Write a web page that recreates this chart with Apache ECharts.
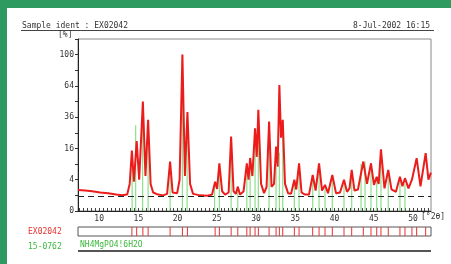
<!DOCTYPE html>
<html><head><meta charset="utf-8">
<script src="https://cdn.jsdelivr.net/npm/echarts@6/dist/echarts.min.js"></script>
<style>html,body{margin:0;padding:0;background:#fff}#c{width:451px;height:264px}</style>
</head><body><div id="c"></div>
<script>
// measured scan (°2θ, % intensity)
const scanAngle = [7.32,8.22,9.11,10.13,11.15,12.17,12.93,13.57,13.89,14.17,14.43,14.78,15.10,15.57,15.90,16.24,16.56,16.88,17.52,18.15,18.66,19.04,19.36,19.94,20.25,20.61,20.93,21.25,21.59,21.97,22.87,23.76,24.39,24.78,25.03,25.32,25.67,26.05,26.50,26.82,27.13,27.43,27.67,27.96,28.41,28.82,29.04,29.24,29.53,29.87,30.09,30.29,30.64,31.02,31.34,31.66,31.97,32.29,32.55,32.75,32.97,33.18,33.40,33.69,34.08,34.46,34.88,35.12,35.48,35.80,36.24,36.75,37.22,37.59,38.03,38.41,38.79,39.17,39.72,40.19,40.70,41.21,41.59,41.91,42.19,42.55,42.99,43.67,44.14,44.65,45.03,45.38,45.63,45.92,46.37,46.85,47.26,47.83,48.34,48.66,48.98,49.43,49.87,50.47,50.96,51.62,51.97,52.29];
const scanIntensity = [1.8,1.7,1.6,1.4,1.3,1.1,1.0,1.1,3,15,3.5,20,4,49,5,34,3,1.4,1.1,1.0,1.2,10,1.4,1.3,4,100,5,40,3,1.2,1.0,0.95,1.1,3.5,2,9.3,1.6,1.1,1.4,22.7,1.6,1.2,2.4,1.1,1.6,9.3,4,11.5,5,28,12,42,3,1.3,2.4,32.7,2.4,3,17,8,65,22,34,3,1.3,1.2,4,1.9,9.3,1.4,1.1,1.1,5.3,1.7,9.3,1.7,2.8,1.3,5.3,1.3,1.4,4,1.5,2.1,6.9,1.7,1.9,10,3,9.3,2.8,4.8,3,15.6,2.1,6.9,1.9,1.5,4.8,2.5,4.4,2.1,4,11.4,2.5,13.7,4,6];
// reference pattern 15-0762 sticks
const refAngle = [14.20,14.65,15.54,16.24,19.04,20.61,21.21,24.71,25.32,26.82,27.67,28.82,29.24,29.87,30.29,31.66,32.55,32.97,33.40,34.88,35.48,37.22,38.03,38.79,39.72,41.21,42.19,43.38,43.89,44.65,45.38,45.92,46.85,48.34,48.98];
const refIntensity = [12,30,45,30,8,100,20,3,9,22,2.5,8,10,25,40,25,8,14,34,3,8,4,8,2.5,4.5,3,4.5,9,10,8,4,12,5,4,3];
// peak markers of EX02042
const peakAngle = [14.17,14.78,15.57,16.24,19.04,20.61,21.25,24.78,25.32,26.82,27.67,28.82,29.24,29.87,30.29,31.66,32.55,32.97,33.40,34.88,35.48,37.22,38.03,38.79,39.72,41.21,42.19,43.67,44.65,45.38,45.92,46.85,48.34,48.98,49.87,50.47,51.62];
const yTickLabels = [0,4,16,36,64,100];
const xTickLabels = [10,15,20,25,30,35,40,45,50];
const backgroundLevel = 0.92;

const xMin = 7.3, xMax = 52.3;
const minorTicks = [];
for (let v = 7.5; v <= 52; v += 0.5) minorTicks.push(v);
const mono = '"DejaVu Sans Mono", monospace';

const chart = echarts.init(document.getElementById('c'), null, {renderer: 'canvas'});
chart.setOption({
  animation: false,
  backgroundColor: '#fff',
  grid: [
    {left: 78, top: 39, width: 353, height: 172, show: true, borderColor: '#888', borderWidth: 1},
    {left: 78, top: 227, width: 353, height: 9, show: true, borderColor: '#555', borderWidth: 1}
  ],
  xAxis: [
    {type: 'value', gridIndex: 0, min: xMin, max: xMax,
     axisLine: {show: true, onZero: false, lineStyle: {color: '#222', width: 1}},
     axisTick: {show: true, inside: true, length: 3, customValues: minorTicks, lineStyle: {color: '#444'}},
     axisLabel: {customValues: xTickLabels, margin: 4, fontSize: 8, color: '#333', fontFamily: mono},
     splitLine: {show: false}},
    {type: 'value', gridIndex: 1, min: xMin, max: xMax, show: false}
  ],
  yAxis: [
    {type: 'value', gridIndex: 0, min: 0, max: 11, interval: 1,
     axisLine: {show: true, lineStyle: {color: '#222'}},
     axisTick: {show: true, length: 3, lineStyle: {color: '#333'}},
     axisLabel: {fontSize: 8, color: '#333', fontFamily: mono, margin: 4,
       formatter: v => yTickLabels.includes(v * v) ? String(v * v) : ''},
     splitLine: {show: false}},
    {type: 'value', gridIndex: 1, min: 0, max: 1, show: false}
  ],
  series: [
    {type: 'line', xAxisIndex: 0, yAxisIndex: 0, symbol: 'none', silent: true,
     data: scanAngle.map((a, i) => [a, Math.sqrt(scanIntensity[i])]),
     lineStyle: {color: '#ec1c1c', width: 2},
     markLine: {silent: true, symbol: 'none', label: {show: false},
       lineStyle: {color: '#222', type: [6, 4], width: 1},
       data: [{yAxis: Math.sqrt(backgroundLevel)}]}},
    {type: 'bar', xAxisIndex: 0, yAxisIndex: 0, barWidth: 1.2, silent: true,
     data: refAngle.map((a, i) => [a, Math.sqrt(refIntensity[i])]),
     itemStyle: {color: 'rgba(95,210,95,0.72)'}},
    {type: 'bar', xAxisIndex: 1, yAxisIndex: 1, barWidth: 1, silent: true,
     data: peakAngle.map(a => [a, 1]),
     itemStyle: {color: '#e83030'}}
  ],
  graphic: [
    {type: 'rect', shape: {x: 0, y: 0, width: 451, height: 8}, style: {fill: '#2f9a60'}},
    {type: 'rect', shape: {x: 0, y: 0, width: 7, height: 264}, style: {fill: '#2f9a60'}},
    {type: 'text', left: 22, top: 22, style: {text: 'Sample ident : EX02042', font: '8px ' + mono, fill: '#333'}},
    {type: 'text', left: 353, top: 22, style: {text: '8-Jul-2002 16:15', font: '8px ' + mono, fill: '#333'}},
    {type: 'line', shape: {x1: 21, y1: 30.5, x2: 434, y2: 30.5}, style: {stroke: '#444', lineWidth: 1}},
    {type: 'text', left: 58, top: 31, style: {text: '[%]', font: '8px ' + mono, fill: '#333'}},
    {type: 'text', left: 421, top: 213, style: {text: '[°2θ]', font: '8px ' + mono, fill: '#333'}},
    {type: 'text', left: 28, top: 228, style: {text: 'EX02042', font: '8px ' + mono, fill: '#e83030'}},
    {type: 'text', left: 28, top: 243, style: {text: '15-0762', font: '8px ' + mono, fill: '#3cb83c'}},
    {type: 'text', left: 80, top: 241, style: {text: 'NH4MgPO4!6H2O', font: '8px ' + mono, fill: '#3cb83c'}},
    {type: 'rect', shape: {x: 78, y: 250, width: 353, height: 2}, style: {fill: '#555'}}
  ]
});
</script></body></html>
